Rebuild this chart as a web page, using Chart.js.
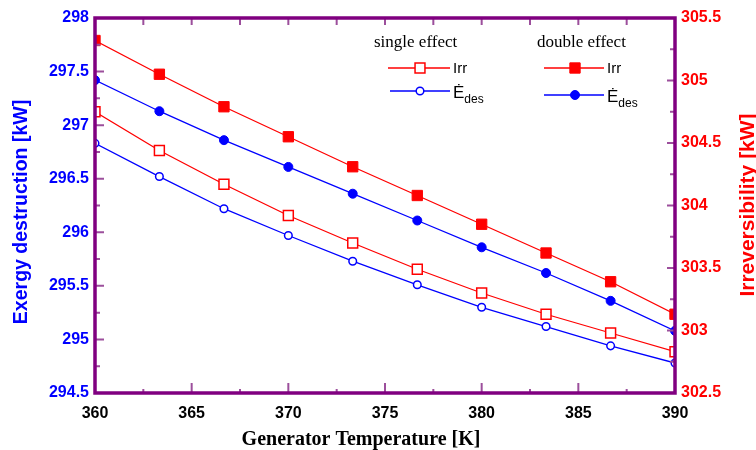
<!DOCTYPE html>
<html>
<head>
<meta charset="utf-8">
<script src="https://cdn.jsdelivr.net/npm/chart.js@4.4.1/dist/chart.umd.min.js"></script>
<style>
  body { margin: 0; background: #fff; }
  #wrap { width: 756px; height: 450px; }
</style>
</head>
<body>
<div id="wrap"><canvas id="chart" width="756" height="450"></canvas></div>
<script>
// generator temperature [K]
const temps = [360, 363.33, 366.67, 370, 373.33, 376.67, 380, 383.33, 386.67, 390];

// exergy destruction [kW] (left axis)
const edesSingle = [296.83, 296.52, 296.22, 295.97, 295.73, 295.51, 295.30, 295.12, 294.94, 294.78];
const edesDouble = [297.42, 297.13, 296.86, 296.61, 296.36, 296.11, 295.86, 295.62, 295.36, 295.08];

// irreversibility [kW] (right axis)
const irrSingle = [304.75, 304.44, 304.17, 303.92, 303.70, 303.49, 303.30, 303.13, 302.98, 302.83];
const irrDouble = [305.32, 305.05, 304.79, 304.55, 304.31, 304.08, 303.85, 303.62, 303.39, 303.13];

const RED = '#ff0000';
const BLUE = '#0000ff';
const FRAME = '#800080';
const TICK = '#9c4f9c';
const SANS = "'Liberation Sans', Arial, sans-serif";
const SERIF = "'Liberation Serif', 'Times New Roman', serif";

const pts = arr => arr.map((v, i) => ({ x: temps[i], y: v }));

const isHalf = v => Math.abs(v * 2 - Math.round(v * 2)) < 1e-6;
const isFive = v => Math.abs(v / 5 - Math.round(v / 5)) < 1e-6;

// frame, inside tick marks, axis titles and the two-column legend
const decor = {
  id: 'decor',
  afterDraw(chart) {
    const { ctx, chartArea: a, scales } = chart;
    ctx.save();

    // tick marks
    ctx.strokeStyle = TICK;
    ctx.lineWidth = 2;
    ctx.beginPath();
    scales.x.ticks.forEach(t => {
      const px = scales.x.getPixelForValue(t.value);
      const major = isFive(t.value);
      ctx.moveTo(px, a.bottom); ctx.lineTo(px, a.bottom - (major ? 10 : 4));
      ctx.moveTo(px, a.top); ctx.lineTo(px, a.top + 7);
    });
    scales.y.ticks.forEach(t => {
      const py = scales.y.getPixelForValue(t.value);
      ctx.moveTo(a.left, py); ctx.lineTo(a.left + (isHalf(t.value) ? 9 : 5), py);
    });
    scales.y2.ticks.forEach(t => {
      const py = scales.y2.getPixelForValue(t.value);
      ctx.moveTo(a.right, py); ctx.lineTo(a.right - (isHalf(t.value) ? 8 : 5), py);
    });
    ctx.stroke();

    // frame
    ctx.strokeStyle = FRAME;
    ctx.lineWidth = 3.5;
    ctx.strokeRect(a.left, a.top, a.right - a.left, a.bottom - a.top);

    // axis titles
    ctx.textAlign = 'center';
    ctx.textBaseline = 'alphabetic';
    ctx.fillStyle = '#000';
    ctx.font = `bold 20px ${SERIF}`;
    ctx.fillText('Generator Temperature [K]', 361, 445);

    ctx.save();
    ctx.translate(27, 212);
    ctx.rotate(-Math.PI / 2);
    ctx.fillStyle = BLUE;
    ctx.font = `bold 19.5px ${SANS}`;
    ctx.fillText('Exergy destruction [kW]', 0, 0);
    ctx.restore();

    ctx.save();
    ctx.translate(754, 205);
    ctx.rotate(-Math.PI / 2);
    ctx.fillStyle = RED;
    ctx.font = `bold 21px ${SANS}`;
    ctx.fillText('Irreversibility [kW]', 0, 0);
    ctx.restore();

    // legend
    ctx.textAlign = 'left';
    ctx.fillStyle = '#000';
    ctx.font = `17px ${SERIF}`;
    ctx.fillText('single effect', 374, 47);
    ctx.fillText('double effect', 537, 47);

    const rows = [
      { x0: 388, x1: 450, mx: 420, y: 68, ds: 0, label: 'Irr' },
      { x0: 390, x1: 450, mx: 420, y: 91, ds: 2, label: 'E' },
      { x0: 544, x1: 604, mx: 575, y: 68, ds: 1, label: 'Irr' },
      { x0: 544, x1: 604, mx: 575, y: 95, ds: 3, label: 'E' }
    ];
    rows.forEach(r => {
      const d = chart.data.datasets[r.ds];
      ctx.strokeStyle = d.borderColor;
      ctx.lineWidth = d.borderWidth;
      ctx.beginPath();
      ctx.moveTo(r.x0, r.y); ctx.lineTo(r.x1, r.y);
      ctx.stroke();
      ctx.fillStyle = d.pointBackgroundColor;
      ctx.strokeStyle = d.pointBorderColor;
      ctx.lineWidth = d.pointBorderWidth;
      Chart.helpers.drawPoint(ctx, {
        pointStyle: d.pointStyle, radius: d.pointRadius,
        borderWidth: d.pointBorderWidth, rotation: 0
      }, r.mx, r.y);

      ctx.fillStyle = '#000';
      const tx = r.x1 + 3;
      if (r.label === 'Irr') {
        ctx.font = `15px ${SANS}`;
        ctx.fillText('Irr', tx, r.y + 5);
      } else {
        ctx.font = `17px ${SANS}`;
        ctx.fillText('\u0116', tx, r.y + 7);
        const w = ctx.measureText('\u0116').width;
        ctx.font = `12px ${SANS}`;
        ctx.fillText('des', tx + w, r.y + 12);
      }
    });

    ctx.restore();
  }
};

new Chart(document.getElementById('chart'), {
  type: 'line',
  data: {
    datasets: [
      {
        label: 'Irr single effect', data: pts(irrSingle), yAxisID: 'y2',
        borderColor: RED, borderWidth: 1.3,
        pointStyle: 'rect', pointRadius: 7, pointBackgroundColor: '#fff',
        pointBorderColor: RED, pointBorderWidth: 1.5
      },
      {
        label: 'Irr double effect', data: pts(irrDouble), yAxisID: 'y2',
        borderColor: RED, borderWidth: 1.3,
        pointStyle: 'rect', pointRadius: 7.3, pointBackgroundColor: RED,
        pointBorderColor: RED, pointBorderWidth: 1
      },
      {
        label: 'Edes single effect', data: pts(edesSingle), yAxisID: 'y',
        borderColor: BLUE, borderWidth: 1.3,
        pointStyle: 'circle', pointRadius: 3.8, pointBackgroundColor: '#fff',
        pointBorderColor: BLUE, pointBorderWidth: 1.5
      },
      {
        label: 'Edes double effect', data: pts(edesDouble), yAxisID: 'y',
        borderColor: BLUE, borderWidth: 1.3,
        pointStyle: 'circle', pointRadius: 4.5, pointBackgroundColor: BLUE,
        pointBorderColor: BLUE, pointBorderWidth: 1
      }
    ]
  },
  options: {
    responsive: false,
    animation: false,
    layout: { padding: { top: 18 } },
    plugins: { legend: { display: false }, tooltip: { enabled: false } },
    elements: { line: { tension: 0 } },
    scales: {
      x: {
        type: 'linear', min: 360, max: 390,
        grid: { display: false, drawTicks: false },
        border: { display: false },
        ticks: {
          stepSize: 2.5, autoSkip: false, maxRotation: 0, padding: 11,
          color: '#000', font: { family: SANS, size: 16, weight: 'bold' },
          callback: v => isFive(v) ? String(v) : ''
        },
        afterFit: s => { s.height = 57; }
      },
      y: {
        position: 'left', min: 294.5, max: 298,
        grid: { display: false, drawTicks: false },
        border: { display: false },
        ticks: {
          stepSize: 0.25, autoSkip: false, padding: 6,
          color: BLUE, font: { family: SANS, size: 16, weight: 'bold' },
          callback: v => isHalf(v) ? String(v) : ''
        },
        afterFit: s => { s.width = 95; }
      },
      y2: {
        position: 'right', min: 302.5, max: 305.5,
        grid: { display: false, drawTicks: false },
        border: { display: false },
        ticks: {
          stepSize: 0.25, autoSkip: false, padding: 6,
          color: RED, font: { family: SANS, size: 16, weight: 'bold' },
          callback: v => isHalf(v) ? String(v) : ''
        },
        afterFit: s => { s.width = 81; }
      }
    }
  },
  plugins: [decor]
});
</script>
</body>
</html>
